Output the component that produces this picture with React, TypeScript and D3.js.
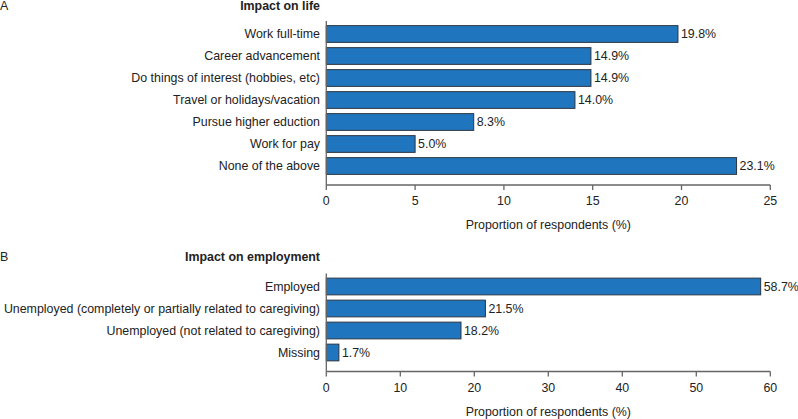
import React from "react";
import * as d3 from "d3";

const lifeCategories = [
  "Work full-time",
  "Career advancement",
  "Do things of interest (hobbies, etc)",
  "Travel or holidays/vacation",
  "Pursue higher eduction",
  "Work for pay",
  "None of the above",
];
const lifeValues = [19.8, 14.9, 14.9, 14.0, 8.3, 5.0, 23.1];
const lifeTicks = [0, 5, 10, 15, 20, 25];

const empCategories = [
  "Employed",
  "Unemployed (completely or partially related to caregiving)",
  "Unemployed (not related to caregiving)",
  "Missing",
];
const empValues = [58.7, 21.5, 18.2, 1.7];
const empTicks = [0, 10, 20, 30, 40, 50, 60];

const FONT = "Liberation Sans, Arial, Helvetica, sans-serif";
const FS = 12.4;
const BAR = "#1f75be";
const BAR_STROKE = "#2b3440";
const AXIS = "#666";
const TEXT = "#222";

type PanelProps = {
  letter: string;
  title: string;
  categories: string[];
  values: number[];
  ticks: number[];
  max: number;
  top: number;
  titleY: number;
};

function Panel({ letter, title, categories, values, ticks, max, top, titleY }: PanelProps) {
  const x = d3.scaleLinear().domain([0, max]).range([326.3, 770.3]);
  const step = 22;
  const n = categories.length;
  const y = d3
    .scaleBand<string>()
    .domain(categories)
    .range([top + 2, top + 2 + step * n])
    .paddingInner(0.24)
    .paddingOuter(0.12);
  const axisY = top + 2 + step * n + 8;
  return (
    <g>
      <text x={0} y={titleY} fontSize={FS} fontFamily={FONT} fill={TEXT} dominantBaseline="middle">
        {letter}
      </text>
      <text
        x={320}
        y={titleY}
        fontSize={FS}
        fontWeight="bold"
        fontFamily={FONT}
        fill={TEXT}
        textAnchor="end"
        dominantBaseline="middle"
      >
        {title}
      </text>
      {categories.map((c, i) => (
        <g key={c}>
          <rect
            x={x(0)}
            y={y(c)!}
            width={x(values[i]) - x(0)}
            height={y.bandwidth()}
            fill={BAR}
            stroke={BAR_STROKE}
            strokeWidth={1}
          />
          <text
            x={320}
            y={y(c)! + y.bandwidth() / 2 + 1}
            fontSize={FS}
            fontFamily={FONT}
            fill={TEXT}
            textAnchor="end"
            dominantBaseline="middle"
          >
            {c}
          </text>
          <text
            x={x(values[i]) + 3}
            y={y(c)! + y.bandwidth() / 2 + 1}
            fontSize={FS}
            fontFamily={FONT}
            fill={TEXT}
            dominantBaseline="middle"
          >
            {values[i].toFixed(1)}%
          </text>
        </g>
      ))}
      <line x1={x(0)} x2={x(0)} y1={top} y2={axisY} stroke={AXIS} strokeWidth={1.3} />
      <line x1={x(0)} x2={x(max)} y1={axisY} y2={axisY} stroke={AXIS} strokeWidth={1.3} />
      {ticks.map((t) => (
        <g key={t}>
          <line x1={x(t)} x2={x(t)} y1={axisY} y2={axisY + 5} stroke={AXIS} strokeWidth={1.3} />
          <text
            x={x(t)}
            y={axisY + 17}
            fontSize={FS}
            fontFamily={FONT}
            fill={TEXT}
            textAnchor="middle"
            dominantBaseline="middle"
          >
            {t}
          </text>
        </g>
      ))}
      <text
        x={(x(0) + x(max)) / 2}
        y={axisY + 41}
        fontSize={FS}
        fontFamily={FONT}
        fill={TEXT}
        textAnchor="middle"
        dominantBaseline="middle"
      >
        Proportion of respondents (%)
      </text>
    </g>
  );
}

export default function App() {
  return (
    <svg
      width={798}
      height={419}
      style={{ position: "absolute", left: 0, top: 0, background: "#fff" }}
    >
      <Panel
        letter="A"
        title="Impact on life"
        categories={lifeCategories}
        values={lifeValues}
        ticks={lifeTicks}
        max={25}
        top={21}
        titleY={7}
      />
      <Panel
        letter="B"
        title="Impact on employment"
        categories={empCategories}
        values={empValues}
        ticks={empTicks}
        max={60}
        top={273.5}
        titleY={258}
      />
    </svg>
  );
}
